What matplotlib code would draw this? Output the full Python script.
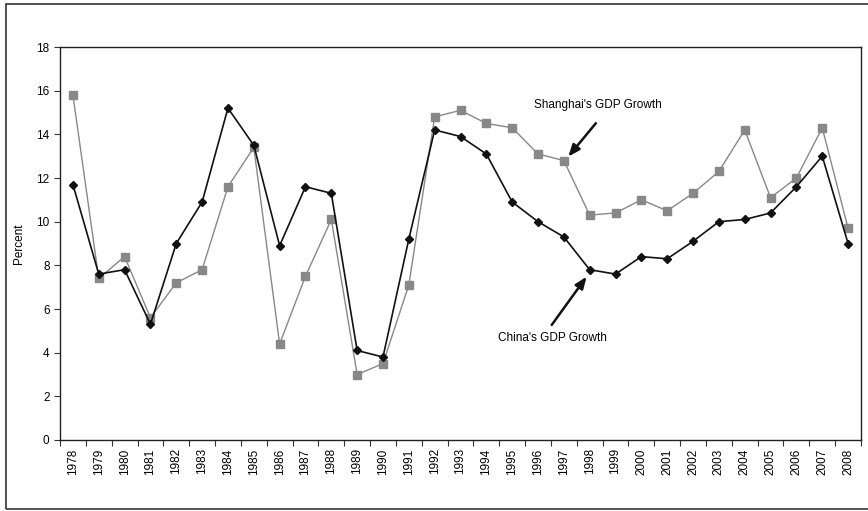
import matplotlib
matplotlib.use("Agg")
import matplotlib.pyplot as plt
from matplotlib.patches import Rectangle

plt.rcParams['font.family'] = ['Liberation Sans', 'DejaVu Sans']

years = list(range(1978, 2009))
china = [11.7, 7.6, 7.8, 5.3, 9.0, 10.9, 15.2, 13.5, 8.9, 11.6, 11.3, 4.1, 3.8, 9.2,
         14.2, 13.9, 13.1, 10.9, 10.0, 9.3, 7.8, 7.6, 8.4, 8.3, 9.1, 10.0, 10.1, 10.4,
         11.6, 13.0, 9.0]
shanghai = [15.8, 7.4, 8.4, 5.6, 7.2, 7.8, 11.6, 13.4, 4.4, 7.5, 10.1, 3.0, 3.5, 7.1,
            14.8, 15.1, 14.5, 14.3, 13.1, 12.8, 10.3, 10.4, 11.0, 10.5, 11.3, 12.3, 14.2,
            11.1, 12.0, 14.3, 9.7]
y_ticks = [0, 2, 4, 6, 8, 10, 12, 14, 16, 18]

W, H = 868, 511
fig = plt.figure(figsize=(W / 100, H / 100), dpi=100)
ax = fig.add_axes([60 / W, 1 - 440 / H, (861 - 60) / W, (440 - 47) / H])

# outer frame (runs off the right edge like the original)
fig.patches.append(Rectangle((6 / W, 1 - 509 / H), 1.2, (509 - 4) / H,
                             transform=fig.transFigure, fill=False,
                             edgecolor="#333333", lw=1.2))

x = list(range(len(years)))
ax.plot(x, shanghai, color="#888888", lw=1.0, marker="s", ms=6,
        markerfacecolor="#888888", markeredgecolor="#888888", zorder=2)
ax.plot(x, china, color="#111111", lw=1.2, marker="D", ms=4.5,
        markerfacecolor="#111111", markeredgecolor="#111111", zorder=3)

ax.set_xlim(-0.5, len(years) - 0.5)
ax.set_ylim(0, 18)
ax.set_yticks(y_ticks)
ax.tick_params(axis="y", labelsize=8.5, length=4, direction="out", color="#333333")

# category labels at centres, ticks at category boundaries
ax.set_xticks([i - 0.5 for i in range(len(years) + 1)])
ax.set_xticklabels([])
ax.set_xticks(x, minor=True)
ax.set_xticklabels([str(y) for y in years], minor=True, rotation=90, fontsize=8.5)
ax.tick_params(axis="x", which="major", length=4, direction="out", color="#333333")
ax.tick_params(axis="x", which="minor", length=0, pad=6)

for s in ax.spines.values():
    s.set_color("#222222")
    s.set_linewidth(1.0)

ax.set_ylabel("Percent", fontsize=8.5, labelpad=8)

arrow = dict(arrowstyle="-|>,head_length=0.7,head_width=0.28",
             color="#111111", lw=1.8, shrinkA=0, shrinkB=0)
ax.text(20.3, 15.35, "Shanghai's GDP Growth", fontsize=8.5, ha="center", va="center")
ax.annotate("", xy=(19.17, 12.98), xytext=(20.24, 14.51), arrowprops=arrow)
ax.text(18.56, 4.66, "China's GDP Growth", fontsize=8.5, ha="center", va="center")
ax.annotate("", xy=(19.88, 7.48), xytext=(18.53, 5.27), arrowprops=arrow)

fig.savefig("out.png", dpi=100)
